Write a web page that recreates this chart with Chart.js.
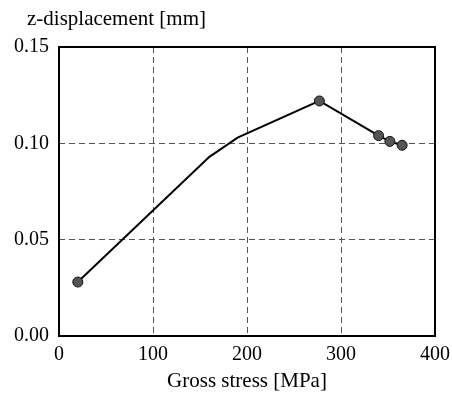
<!DOCTYPE html>
<html>
<head>
<meta charset="utf-8">
<script src="https://cdn.jsdelivr.net/npm/chart.js@4"></script>
<style>
  html, body { margin: 0; padding: 0; background: #fff; }
  #wrap { width: 452px; height: 396px; }
</style>
</head>
<body>
<div id="wrap"><canvas id="mycanvas" width="452" height="396"></canvas></div>
<script>
// values
var stress = [20, 160, 190, 277, 340, 352, 365];
var zDisp = [0.028, 0.093, 0.103, 0.122, 0.104, 0.101, 0.099];
var marked = [true, false, false, true, true, true, true];
var xTicks = [0, 100, 200, 300, 400];
var yTicks = [0.00, 0.05, 0.10, 0.15];

var serif = "'Liberation Serif', 'Times New Roman', serif";

var points = [];
for (var i in stress) {
	points.push({x: stress[i], y: zDisp[i]});
}

// frame round the plot + y title at top left
var framePlugin = {
	id: 'frame',
	afterDraw: function(chart) {
		var ctx = chart.ctx, a = chart.chartArea;
		ctx.save();
		ctx.strokeStyle = '#000';
		ctx.lineWidth = 2;
		ctx.strokeRect(a.left, a.top, a.right - a.left, a.bottom - a.top);
		ctx.fillStyle = '#000';
		ctx.font = '21px ' + serif;
		ctx.textBaseline = 'middle';
		ctx.textAlign = 'left';
		ctx.fillText('z-displacement [mm]', 27, 19);
		ctx.restore();
	}
};

var ctx = document.getElementById('mycanvas');

new Chart(ctx, {
	type: 'line',
	data: {
		datasets: [{
			data: points,
			borderColor: '#000',
			borderWidth: 2,
			backgroundColor: '#555',
			pointBackgroundColor: '#555',
			pointBorderColor: '#111',
			pointBorderWidth: 1,
			pointRadius: marked.map(function(m) { return m ? 5 : 0; }),
			tension: 0
		}]
	},
	options: {
		responsive: false,
		animation: false,
		layout: {padding: {left: 4, right: 0, top: 47, bottom: 0}},
		plugins: {legend: {display: false}, tooltip: {enabled: false}},
		scales: {
			x: {
				type: 'linear',
				min: 0, max: 400,
				afterBuildTicks: function(s) { s.ticks = xTicks.map(function(v) { return {value: v}; }); },
				afterFit: function(s) { s.height = 60; s.paddingRight = 17; s.paddingLeft = 0; },
				grid: {color: '#555', lineWidth: 1, drawTicks: false},
				border: {display: false, dash: [6, 4]},
				ticks: {color: '#000', padding: 7, font: {family: serif, size: 20}},
				title: {display: true, text: 'Gross stress [MPa]', color: '#000', padding: {top: 0, bottom: 2}, font: {family: serif, size: 21}}
			},
			y: {
				min: 0, max: 0.15,
				afterBuildTicks: function(s) { s.ticks = yTicks.map(function(v) { return {value: v}; }); },
				grid: {color: '#555', lineWidth: 1, drawTicks: false},
				border: {display: false, dash: [6, 4]},
				ticks: {color: '#000', padding: 10, font: {family: serif, size: 20},
					callback: function(v) { return v.toFixed(2); }}
			}
		}
	},
	plugins: [framePlugin]
});
</script>
</body>
</html>
